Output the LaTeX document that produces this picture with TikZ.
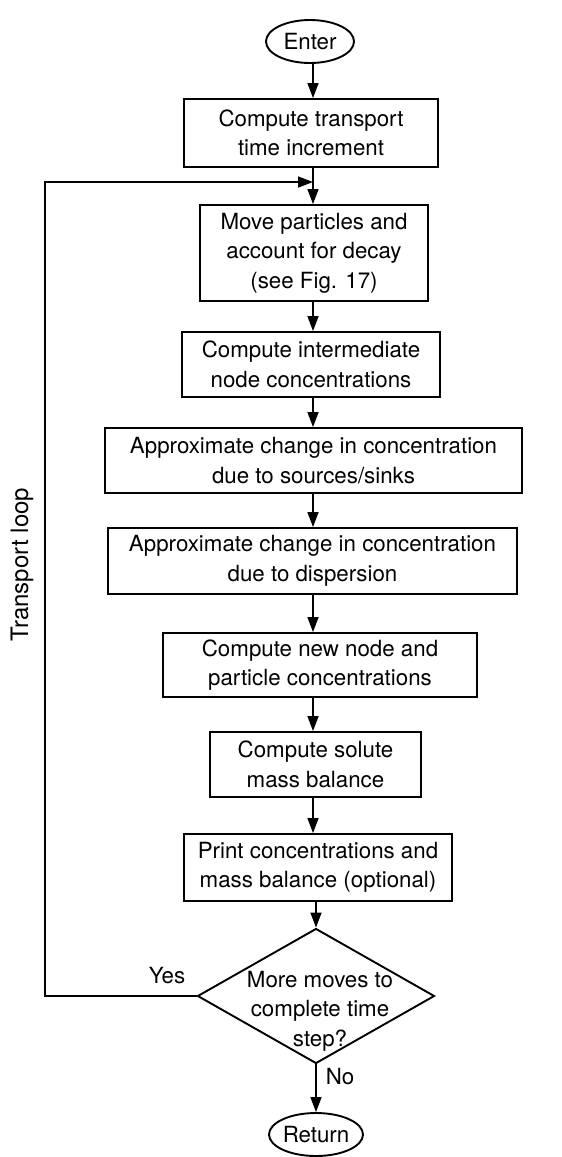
\documentclass[tikz,border=0pt]{standalone}
\usepackage{fontspec}
\setmainfont{TeX Gyre Heros}
\usetikzlibrary{shapes.geometric,arrows.meta}
\begin{document}
\begin{tikzpicture}[x=1pt,y=-1pt,
  every node/.style={font=\fontsize{22.3}{29.5}\selectfont, inner sep=0pt},
  proc/.style={draw, line width=1.9pt, rectangle, align=center},
  term/.style={draw, line width=1.9pt, ellipse},
  decide/.style={draw, line width=1.9pt, diamond, aspect=1.75, minimum width=237pt, minimum height=135pt},
  flow/.style={line width=1.5pt, -{Triangle[length=15pt,width=11pt]}},
  lbl/.style={font=\fontsize{22.3}{29.5}\selectfont}]
\useasboundingbox (0,0) rectangle (562,1157);
\node[term, minimum width=88pt, minimum height=43pt] (enter) at (310,41.5) {Enter};
\node[proc, minimum width=254pt, minimum height=68pt] (b1) at (311,133) {Compute transport\\time increment};
\node[proc, minimum width=228pt, minimum height=96pt] (b2) at (314,253) {Move particles and\\account for decay\\(see Fig. 17)};
\node[proc, minimum width=258pt, minimum height=65pt] (b3) at (311,364.5) {Compute intermediate\\node concentrations};
\node[proc, minimum width=417pt, minimum height=65pt] (b4) at (313.5,460.5) {Approximate change in concentration\\due to sources/sinks};
\node[proc, minimum width=409pt, minimum height=66pt] (b5) at (312.5,561) {Approximate change in concentration\\due to dispersion};
\node[proc, minimum width=314pt, minimum height=64pt] (b6) at (320,665) {Compute new node and\\particle concentrations};
\node[proc, minimum width=211pt, minimum height=65pt] (b7) at (315.5,764.5) {Compute solute\\mass balance};
\node[proc, minimum width=268pt, minimum height=67pt] (b8) at (318,867.5) {Print concentrations and\\mass balance (optional)};
\node[decide] (dia) at (316,996) {\hspace*{8pt}\raisebox{-20pt}[0pt][0pt]{\begin{tabular}{@{}c@{}}More moves to\\complete time\\step?\end{tabular}}};
\node[term, minimum width=94pt, minimum height=43pt] (ret) at (316,1134.5) {Return};
\node[lbl] (yes) at (167,976) {Yes};
\node[lbl] (no) at (340,1077) {No};
\node[rotate=90, font=\fontsize{24}{29}\selectfont] (tl) at (22,564.5) {Transport loop};
\coordinate (merge) at (313,182);
\coordinate (loopc) at (45,182);
\draw[flow] (enter.south -| merge) -- (b1.north -| merge);
\draw[flow] (b1.south -| merge) -- (b2.north -| merge);
\draw[flow] (dia.west) -| (loopc) -- (merge);
\draw[flow] (b2.south -| merge) -- (b3.north -| merge);
\draw[flow] (b3.south -| merge) -- (b4.north -| merge);
\draw[flow] (b4.south -| merge) -- (b5.north -| merge);
\draw[flow] (b5.south -| merge) -- (b6.north -| merge);
\draw[flow] (b6.south -| merge) -- (b7.north -| merge);
\draw[flow] (b7.south -| merge) -- (b8.north -| merge);
\draw[flow] (b8.south -| dia.north) -- (dia.north);
\draw[flow] (dia.south) -- (ret.north);
\end{tikzpicture}
\end{document}
